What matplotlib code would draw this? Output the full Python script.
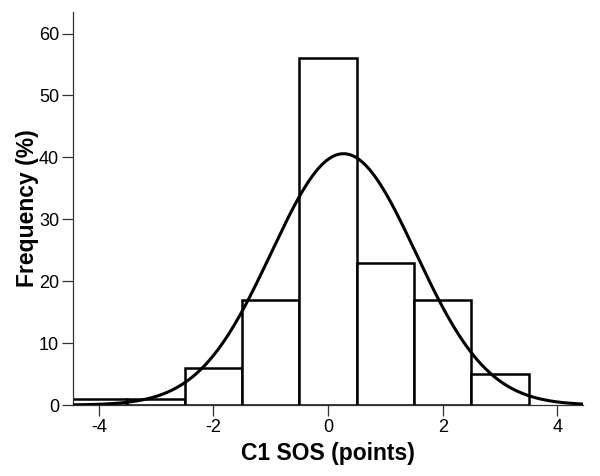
import matplotlib
matplotlib.use("Agg")
import matplotlib.pyplot as plt, numpy as np

plt.rcParams['font.family'] = ['Liberation Sans', 'DejaVu Sans']
plt.rcParams['axes.unicode_minus'] = False  # plain hyphen like the original

# histogram bins (left edges, width 1) and percentages
bin_left = [-4.5, -3.5, -2.5, -1.5, -0.5, 0.5, 1.5, 2.5]
freq = [1, 1, 6, 17, 56, 23, 17, 5]

# fitted normal curve parameters
mu, sigma, peak = 0.27, 1.26, 40.6

fig = plt.figure(figsize=(6, 4.76), dpi=100)
ax = fig.add_axes([0.1217, 0.149, 0.850, 0.826])

ax.bar(bin_left, freq, width=1, align='edge', facecolor='white', edgecolor='black', linewidth=1.8, zorder=2)

xs = np.linspace(-4.45, 4.45, 400)
ax.plot(xs, peak * np.exp(-(xs - mu) ** 2 / (2 * sigma ** 2)), color='black', lw=2.2, zorder=3)

ax.set_xlim(-4.45, 4.45)
ax.set_ylim(0, 63.5)
ax.set_xticks([-4, -2, 0, 2, 4])
ax.set_yticks(range(0, 61, 10))
for s in ['top', 'right']:
    ax.spines[s].set_visible(False)
for s in ['left', 'bottom']:
    ax.spines[s].set_linewidth(0.9)
    ax.spines[s].set_color('#333333')
ax.tick_params(direction='out', length=8, width=0.9, color='#333333', labelsize=13, pad=2)

ax.set_xlabel('C1 SOS (points)', fontsize=16.5, fontweight='bold')
ax.set_ylabel('Frequency (%)', fontsize=16.5, fontweight='bold')
ax.xaxis.set_label_coords(0.5, -0.095)
ax.yaxis.set_label_coords(-0.066, 0.5)

fig.savefig('out.png', dpi=100)
